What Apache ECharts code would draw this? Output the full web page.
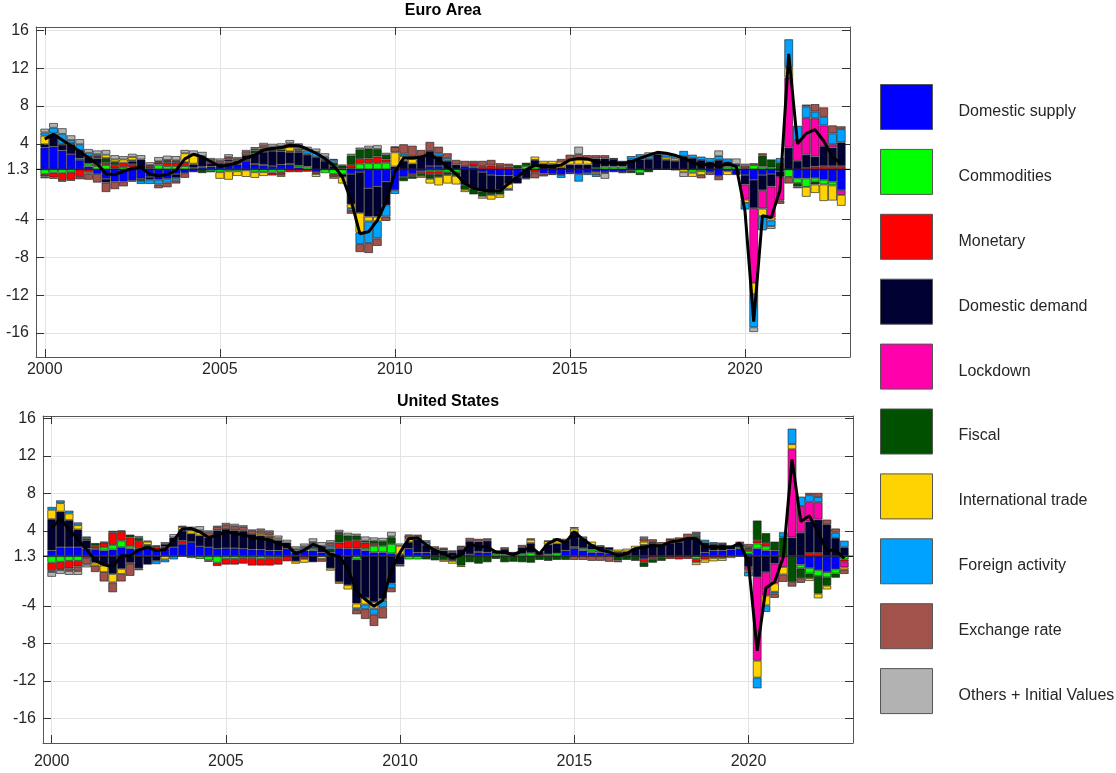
<!DOCTYPE html>
<html><head><meta charset="utf-8">
<script src="https://cdn.jsdelivr.net/npm/echarts@6/dist/echarts.min.js"></script>
<style>html,body{margin:0;padding:0;background:#fff}#c{width:1116px;height:773px}</style>
</head><body><div id="c"></div>
<script>
const FONT = '"Liberation Sans", Arial, Helvetica, sans-serif';
const startYear = 2000;
const nQuarters = 92;
const baseline = 1.3;
const xTicks = [2000, 2005, 2010, 2015, 2020];
const yTicks = [16, 12, 8, 4, 1.3, -4, -8, -12, -16];
const seriesNames = ['Domestic supply','Commodities','Monetary','Domestic demand','Lockdown','Fiscal','International trade','Foreign activity','Exchange rate','Others + Initial Values'];
const seriesColors = ['#0000ff','#00ff00','#ff0000','#000033','#ff00aa','#005000','#ffd300','#00a2ff','#a0524b','#b2b2b2'];

// ===== Euro Area (contributions, deviation from 1.3) =====
const eaDomesticSupply = [
 2.3,2.4,2.0,1.6, 1.0,0.3,-0.5,-1.0, -1.3,-1.3,-1.2,-1.0, -0.8,-1.1,-1.0,-0.5,
 -0.4,-0.3,0.2,0.3, 0.35,0.7,0.5,0.9, 0.5,0.4,0.35,0.5, 0.5,0.2,0,-0.3,
 0,0,0,-0.5, -0.3,-2.0,-1.8,-1.3, -2.2,-0.8,-0.5,-0.2, 0.35,0.35,0,0,
 0.35,0.2,-0.3,-0.6, -0.65,-0.65,-0.8,0, 0,-0.45,-0.5,-0.6, -0.4,-0.5,-0.4,-0.3,
 -0.3,-0.3,-0.3,0, 0,0,0,0, 0,0,0,0, -0.3,-0.7,-0.2,-0.6,
 -0.6,-1.1,-0.6,-0.5, -0.2,0,-0.95,-0.95, -0.9,-1.1,-1.3,-2.2];
const eaCommodities = [
 -0.5,-0.35,-0.4,-0.3, 0.15,0.3,0.35,0.45, 0.1,0.25,0.2,0, 0.1,0.5,0.35,0.35,
 0.35,0.1,0,-0.2, -0.3,-0.2,-0.2,-0.1, -0.3,-0.3,-0.35,-0.3, 0.1,0.2,0.3,0,
 -0.4,-0.5,-0.5,0.1, 0.6,0.65,0.65,0.7, 0,0,0,0, -0.2,-0.2,-0.3,-0.3,
 0,0.1,0,0, 0,0,0,0.35, 0.3,0,0,0, 0,0,0,0.15,
 0.3,0.3,0.3,-0.1, -0.4,0,0,0, 0,0,-0.35,-0.2, 0,0,0.3,0.35,
 0.1,0.45,0.3,0.2, 0,-0.8,-0.5,-0.9, -0.4,-0.5,-0.4,0];
const eaMonetary = [
 -0.25,-0.5,-0.8,-0.8, -0.8,-0.3,0.2,0.25, 0.35,0.45,0.35,0, 0.25,0.25,0.35,0.35,
 0.3,0.1,0.1,0, 0,0.15,0.1,0.1, 0.1,0.1,-0.3,-0.3, -0.3,-0.3,-0.25,-0.2,
 0,-0.3,0.1,0.35, 0.5,0.5,0.7,0.35, 0,0,-0.2,-0.2, -0.3,-0.3,0,0,
 0,0.35,0.35,0.4, 0.35,0.3,0.1,0, -0.35,0,0,0, 0,0,0,0,
 0,0,0,0, 0,0,0,0, 0,0,0,0, 0,0,0,0,
 0,0,0,0, 0,0,0,0.15, 0.3,0.35,0.35,0.35];
const eaDomesticDemand = [
 0.35,1.2,0.6,1.05, 0.9,0.7,0.6,-0.4, 0,0,0.3,1.05, -0.3,0,0,-0.4,
 0.1,0.3,1.0,0.35, 0.3,0.2,0.3,0.5, 1.05,1.35,1.6,1.4, 1.2,1.4,1.25,1.3,
 0.9,0.35,-0.3,-3.2, -4.3,-3.0,-3.2,-2.5, 0.3,0.9,0.6,1.4, 1.6,1.05,0.9,0.5,
 -1.65,-2.0,-2.05,-1.75, -1.5,-0.9,-0.7,-0.95, 0.7,0.6,0.55,0.2, 0.5,0.5,0.5,1.0,
 0.85,0.8,0.6,1.05, 1.05,1.1,1.6,1.0, 0.9,1.4,1.2,1.0, 0.8,1.0,0.5,0.2,
 -1.0,-3.0,-1.6,-1.3, -0.6,2.3,0.9,1.4, 1.05,2.1,1.95,2.5];
const eaLockdown = [
 0,0,0,0, 0,0,0,0, 0,0,0,0, 0,0,0,0,
 0,0,0,0, 0,0,0,0, 0,0,0,0, 0,0,0,0,
 0,0,0,0, 0,0,0,0, 0,0,0,0, 0,0,0,0,
 0,0,0,0, 0,0,0,0, 0,0,0,0, 0,0,0,0,
 0,0,0,0, 0,0,0,0, 0,0,0,0, 0,0,0,0,
 -1.6,-7.9,-1.95,-3.3, -2.5,7.4,2.2,3.9, 4.05,2.2,0.35,-0.5];
const eaFiscal = [
 0,0,0,0.1, 0,0.1,0.15,0.5, 0.35,0,0.1,-0.25, 0,0.1,0.2,0.15,
 0,0.1,-0.4,-0.1, 0,0,0,0, 0.35,0.35,0.1,0.2, 0.1,0.1,0,0,
 0.1,0.35,0.3,1.0, 1.0,1.05,0.8,0.5, 0,-0.45,-0.3,-0.3, -0.5,-0.3,-0.3,-0.4,
 -0.5,-0.65,-0.5,-0.35, -0.5,0,0.35,0.35, 0,0,0,0, 0,0,0,0,
 0,0,-0.1,-0.3, -0.2,-0.3,0,0, -0.1,0,0,0, 0,0,0,0,
 0,0,1.15,0.85, 0.7,0,-0.35,0, -0.3,0,0,0];
const eaIntlTrade = [
 0.9,0.2,0.1,0, 0,-0.2,0.1,0.35, 0.25,0.35,0.35,0, 0,0,0.1,0.1,
 0.95,1.0,0,0, -0.7,-0.9,-0.5,-0.7, -0.6,-0.4,0,-0.2, 0.45,0.1,0.1,-0.3,
 0,-0.2,-0.7,-0.4, -2.1,-0.5,-0.5,0, 1.5,0.5,0.5,-0.2, -0.5,-0.9,-0.9,-0.9,
 -0.25,0,-0.25,-0.5, -0.35,-0.5,0,0, 0.35,0.3,0.35,0.6, 0.45,0.55,0.5,-0.2,
 0,0,0,0, 0.2,0,0,0.25, 0.25,-0.3,-0.45,-0.4, 0,0,-0.4,0,
 -0.35,-1.2,-0.8,-0.3, 0,1.05,0,-1.05, -0.9,-1.75,-1.6,-1.15];
const eaForeign = [
 0.35,0.6,1.05,0.35, 0.6,0.35,0.2,0, 0,0,0,-0.3, -0.45,-0.5,-0.4,-0.3,
 0,0,0.1,0, 0,0,0,0, 0,0,0,0, 0.1,0.2,0.35,0.55,
 0.35,0.3,0,-0.3, -1.2,-2.3,-1.8,-1.2, -0.4,0.25,0.3,0, 0,0.3,0.3,0,
 0,0,0,0, 0,-0.2,0,0, 0,0,0,-0.3, -0.1,-0.8,-0.2,-0.3,
 -0.1,0,0,0.35, 0.35,0.35,0.1,0.35, 0.35,0.55,0.35,0.35, 0.4,0.4,0.35,0,
 -0.7,-3.5,-1.5,-0.6, 0.5,3.0,1.5,1.2, 0.7,0.9,1.15,1.4];
const eaExchange = [
 -0.2,-0.15,-0.1,-0.1, -0.25,-0.6,-0.9,-1.0, -0.8,-0.5,-0.1,0, 0.1,-0.4,-0.5,-0.3,
 -0.5,0,0,0.35, 0.25,0.25,0.2,0.35, 0.2,0.35,0.35,0.35, 0.3,0.35,0,0,
 0,0,0,-0.3, -0.85,-1.05,-0.8,-0.45, 0.55,1.0,1.1,0.65, 0.95,0.7,0.5,0.5,
 0.55,0.25,0.55,0.6, 0.3,0.3,0,-0.1, -0.6,-0.3,-0.1,0.3, 0.6,0.55,0.5,0.35,
 0.35,0.1,0,0, 0,0,0,0, 0,0,0,-0.35, -0.3,-0.45,0,0,
 0.3,0.2,0.25,0, -0.35,-0.7,-0.2,0.2, 0.8,1.0,0.85,0.3];
const eaOthers = [
 0.4,0.5,0.6,0.5, 0.55,0.4,0.4,0.5, 0.45,0.35,0.35,0.45, 0.3,0.45,0.45,0.45,
 0.35,0.4,0.45,0.2, 0.25,0.3,0.2,0.2, 0.15,0.25,0.3,0.3, 0.35,0.2,0.4,0.35,
 0.35,0.1,0.1,0.2, 0.2,0.3,0.4,0.2, 0.05,0,0,0, 0,0,0,0,
 0,0,0,0, 0,0,0,0, 0,0,0,0, 0,0.8,0,0,
 -0.6,0,0,0, 0,0.35,0,0, 0,-0.5,0,0, 0,0.6,0,0.6,
 0.2,-0.5,0,-0.3, 0,0,0,0, 0,0,0,0];
const eaGDP = [
 4.5,5.0,4.4,3.8, 3.2,2.5,1.9,0.8, 0.75,1.1,1.4,1.5, 0.8,0.6,0.75,1.2,
 2.4,2.9,2.6,2.1, 1.6,1.75,2.0,2.5, 2.8,3.35,3.5,3.6, 3.85,3.8,3.45,3.0,
 2.45,1.7,0.5,-2.0, -5.5,-5.3,-4.1,-2.1, 1.0,2.5,2.5,2.6, 2.9,2.3,1.6,0.8,
 -0.2,-0.7,-0.9,-1.0, -1.0,-0.2,0.5,1.25, 1.75,1.6,1.6,1.75, 2.3,2.45,2.4,2.1,
 2.0,2.0,1.85,2.1, 2.45,2.8,3.1,3.0, 2.8,2.45,2.05,1.7, 1.9,1.6,1.9,1.6,
 -3.1,-14.8,-3.6,-3.8, -0.9,13.5,4.0,5.1, 5.5,4.3,2.6,1.9];

// ===== United States =====
const usDomesticSupply = [
 0.6,0.95,0.95,0.95, 0.8,0.7,0.6,0.7, 0.95,0.8,0.8,0.8, 0.6,0.8,0.95,1.3,
 1.5,1.05,0.95,0.8, 0.85,0.85,0.8,0.7, 0.7,0.6,0.6,0.8, 0.4,0.6,0.6,0.4,
 0.4,0.85,0.8,0.8, 0.6,0.4,0.4,0.3, 0,0.8,0.4,0.4, 0,0,0,0,
 0.2,0.4,0.4,0, 0,0,0,0, 0,0,0,0.6, 0.85,0.6,0.4,0.4,
 0.3,0,0,0, -0.3,0,0,0, 0,0,0,0.4, 0.6,0.6,0.7,0.8,
 0.25,0.8,0.6,0.6, 0,0,-0.9,-1.25, -1.5,-1.7,-1.4,0];
const usCommodities = [
 -0.7,-0.6,-0.5,-0.5, 0,0.1,0.35,0.5, 0.7,0.3,0.1,0, 0,0,0,0,
 -0.2,-0.3,-0.45,-0.7, -0.3,-0.3,-0.2,-0.2, -0.3,-0.2,-0.2,0, 0,0,0.25,0,
 0,0,0,-0.35, 0.25,0.7,0.7,1.0, 0,-0.35,-0.35,0, 0,0,0,0,
 0,0,0,0.25, 0.2,0.25,0.25,0.35, 0.1,0.2,0.3,0, 0.15,0.25,0.3,0.2,
 0.35,0.2,0.1,0, 0,0,0,0, 0,0,-0.3,0, 0,0,0,0.15,
 0.3,0.55,0.45,0, 0,0,-0.4,-0.6, -0.6,-0.55,-0.45,-0.35];
const usMonetary = [
 -0.8,-0.8,-0.8,-0.6, -0.2,0.3,0.5,1.3, 0.95,0.9,0.7,0.1, 0.35,0.2,0,0.35,
 0,0,-0.15,-0.35, -0.6,-0.6,-0.6,-0.8, -0.7,-0.8,-0.7,-0.55, 0,-0.3,0,0,
 0,0.6,0.8,0.9, 0.6,0.2,0,0, 0,0,0,0, 0,0,0,0,
 0,0.1,0,0, 0,0,0,0, 0,0,0,0, 0,0,0,0,
 0,0,0,0, -0.35,-0.3,-0.1,-0.3, -0.35,-0.3,-0.35,-0.35, -0.2,-0.2,0,0,
 0.2,0.35,0.35,0, 0,0,0,0.35, 0.35,0,0,-0.25];
const usDomesticDemand = [
 3.35,3.8,2.9,1.9, 0.9,-0.7,-1.0,-1.9, -1.35,-0.7,-1.3,-0.9, -0.5,0.3,1.05,1.05,
 0.9,1.15,1.05,1.95, 2.05,1.9,1.9,1.65, 1.5,1.25,1.1,0.65, -0.55,0,-0.65,0.7,
 -1.3,-2.75,-3.1,-4.7, -4.45,-4.9,-4.55,-2.9, -0.9,0.7,1.4,0.8, 0.7,0.6,0.4,0.75,
 1.4,1.05,1.25,0.25, 0.55,0.2,0.7,1.05, 0.35,1.05,1.05,1.1, 1.6,1.05,0.5,0.45,
 0.3,0.25,0.4,0.75, 1.2,1.4,1.2,1.4, 1.5,1.85,1.95,1.05, 0.7,0.7,0.45,0.35,
 -1.15,-2.25,-1.7,-0.8, 0,2.0,2.5,3.35, 3.55,3.4,1.95,0.95];
const usLockdown = [
 0,0,0,0, 0,0,0,0, 0,0,0,0, 0,0,0,0,
 0,0,0,0, 0,0,0,0, 0,0,0,0, 0,0,0,0,
 0,0,0,0, 0,0,0,0, 0,0,0,0, 0,0,0,0,
 0,0,0,0, 0,0,0,0, 0,0,0,0, 0,0,0,0,
 0,0,0,0, 0,0,0,0, 0,0,0,0, 0,0,0,0,
 -0.3,-8.9,-2.5,-2.1, -1.15,9.4,2.85,2.1, 1.85,0,0,-0.6];
const usFiscal = [
 0,0,0,0, 0.2,0.3,0.1,0.2, 0.15,0.3,0.35,0.3, 0,0,0,0.1,
 0,0,0,0, 0,0,0,0, 0,0.2,0,0, 0.2,0,0.1,0,
 0.4,0.9,0.6,0.5, 0.2,0.35,0.5,0.7, 0.2,0,0,-0.35, -0.45,-0.4,-0.5,-1.0,
 -0.65,-0.8,-0.65,-0.3, -0.65,-0.6,-0.65,-0.7, -0.4,-0.5,-0.4,-0.4, 0,0,0,0,
 0,-0.45,-0.4,-0.5, -0.5,-0.4,-0.4,0, 0,0,0.2,0, 0,0,0,0,
 0.2,2.1,1.05,0.95, 2.0,-2.75,-1.05,-0.5, -1.9,-0.9,-0.45,0];
const usIntlTrade = [
 1.0,0.9,0.7,0.45, 0,-0.3,-0.7,-0.9, -0.55,-0.1,0,0.35, 0.1,-0.35,0,0.3,
 0.35,0.35,0,0, 0,0,0,0, 0.2,0.15,0.2,0, -0.25,-0.4,0,-0.3,
 -0.25,-0.2,-0.45,-0.5, -0.7,-0.7,-0.2,0.1, 0.9,0.35,0,0, 0,-0.2,-0.3,-0.15,
 0,0,0,0, 0,0,0,0.35, 0,0.35,0.35,0.15, 0.35,0,0.35,0,
 0,0.25,0.3,0.35, 0.35,0.1,0,0, 0.15,0,-0.3,-0.35, -0.35,-0.3,-0.2,0,
 -0.2,-1.8,-1.05,-0.9, -0.8,0.55,0,-0.3, -0.5,-0.4,0,-0.25];
const usForeign = [
 0.3,0.3,0.3,0.3, 0.2,0,0,0, 0,0,0,0, -0.35,-0.3,-0.35,0,
 0,0,0,0, 0,0,0,0, 0,0,0,0, 0.2,0.25,0.35,0,
 0.3,0.1,0,-0.2, -0.5,-0.65,-0.7,-0.5, -0.2,0,0,0.3, 0,0,0,0,
 0,0,0,0, 0,0,0,0, 0,0,0,0, 0,0,0,0,
 0,0,0,0, 0,0,0,0, 0,0,0.2,0.3, 0.2,0.15,0,0,
 -0.5,-1.15,-0.7,-0.2, 0.55,1.65,1.0,0.7, 0.55,0,0.55,0.7];
const usExchange = [
 -0.2,-0.1,-0.3,-0.5, -0.7,-0.7,-1.0,-1.05, -0.8,-1.3,-0.2,0, 0,0,0,0.15,
 0,0.2,0.55,0.35, 0.45,0.45,0.4,0.35, 0.35,0.35,0,0, 0,0.2,0.2,-0.3,
 0.3,0.1,0,-0.45, -1.05,-1.2,-1.2,-0.45, 0,0.35,0.35,0, 0.2,0.2,0.1,0.25,
 0.35,0.3,0.25,0, 0.2,0,0.25,0.15, 0,0.05,0.2,0, -0.4,-0.4,-0.5,-0.5,
 -0.6,-0.2,0,0, 0.35,0.3,0.3,0.4, 0.35,0.55,0.25,0, 0,0,0,0.25,
 0.35,0,0,-0.45, -0.8,-0.5,-0.5,0.25, 0.45,0.5,0.45,-0.45];
const usOthers = [
 -0.5,-0.4,-0.4,-0.4, -0.3,0,0,0, 0,0,0.2,0.1, 0.1,0.2,0.35,0,
 0.4,0.45,0.2,0.15, 0.2,0.25,0.2,0.15, 0.2,0.2,0.3,0.3, 0.25,0.3,0.4,0.4,
 0.3,0.25,0.3,0.2, 0.45,0.35,0.35,0.5, 0.25,0.1,0.15,0.2, 0.15,0.1,0.1,0.1,
 0,0,0,0.1, 0,0,0,0, 0,0,0,0, 0.15,0.2,0,0.1,
 0,0,0,0, 0.2,0,0,0.05, 0,0,0,0, 0,0,0,0,
 0,0,0,0, 0,0,0,0, 0,0,0,0];
const usGDP = [
 4.3,5.3,4.15,3.1, 2.0,0.85,0.4,0.15, 1.35,1.35,1.95,2.25, 1.9,2.0,2.95,4.2,
 4.25,3.9,3.3,3.5, 3.95,3.7,3.6,3.3, 3.15,3.05,2.6,2.5, 1.55,1.95,2.55,2.2,
 1.45,1.3,0.0,-2.5, -3.3,-4.05,-3.4,-0.2, 1.7,3.15,3.25,2.5, 1.9,1.6,1.1,1.45,
 2.6,2.3,2.3,1.75, 1.7,1.45,1.85,2.3, 1.55,2.65,3.1,2.75, 3.9,3.1,2.45,1.95,
 1.75,1.35,1.55,2.1, 2.25,2.4,2.4,2.8, 2.95,3.2,3.15,2.3, 2.25,2.25,2.25,2.7,
 0.6,-8.8,-2.1,-1.45, 1.2,11.65,5.0,5.6, 3.8,1.9,1.95,1.05];

// x layout: category slots every quarter from 1999.75 to 2023.0 (one empty slot at each end)
const xMin = startYear - 0.25;
const xMax = xMin + (nQuarters + 1) / 4;
const slotLabels = Array.from({length: nQuarters + 2}, (_, k) => String(xMin + k / 4));
const quarterX = Array.from({length: nQuarters}, (_, i) => startYear + i / 4);
const yTickDev = yTicks.map(t => +(t - baseline).toFixed(4));
const yLabel = v => { const t = yTicks.find(t => Math.abs(t - baseline - v) < 1e-6); return t === undefined ? '' : String(t); };

const panels = [
  { title: 'Euro Area', contrib: [eaDomesticSupply, eaCommodities, eaMonetary, eaDomesticDemand, eaLockdown, eaFiscal, eaIntlTrade, eaForeign, eaExchange, eaOthers],
    line: eaGDP, grid: { left: 36, top: 27, width: 814, height: 330 }, yMin: -19.84, yMax: 15.05, titleY: 11, xMargin: 5 },
  { title: 'United States', contrib: [usDomesticSupply, usCommodities, usMonetary, usDomesticDemand, usLockdown, usFiscal, usIntlTrade, usForeign, usExchange, usOthers],
    line: usGDP, grid: { left: 43, top: 416, width: 810, height: 327 }, yMin: -19.93, yMax: 14.95, titleY: 402, xMargin: 11 }
];

const AXIS_COLOR = '#555';
const grids = [], xAxes = [], yAxes = [], series = [], graphics = [];
panels.forEach((pn, p) => {
  grids.push(Object.assign({ outerBoundsMode: 'none', containLabel: false }, pn.grid));
  xAxes.push({ type: 'category', gridIndex: p, data: slotLabels, boundaryGap: false, show: false });
  xAxes.push({ type: 'value', gridIndex: p, min: xMin, max: xMax, position: 'bottom',
    axisLine: { show: true, onZero: false, lineStyle: { color: AXIS_COLOR, width: 1 } },
    axisTick: { show: true, inside: true, length: 8, customValues: xTicks, lineStyle: { color: '#333' } },
    axisLabel: { customValues: xTicks, formatter: v => String(v), fontSize: 16, color: '#262626', fontFamily: FONT, margin: pn.xMargin },
    splitLine: { show: true, lineStyle: { color: '#e3e3e3', width: 1 } } });
  xAxes.push({ type: 'value', gridIndex: p, min: xMin, max: xMax, position: 'top',
    axisLine: { show: true, onZero: false, lineStyle: { color: AXIS_COLOR, width: 1 } },
    axisTick: { show: true, inside: true, length: 8, customValues: xTicks, lineStyle: { color: '#333' } },
    axisLabel: { show: false }, splitLine: { show: false } });
  yAxes.push({ type: 'value', gridIndex: p, min: pn.yMin, max: pn.yMax, position: 'left',
    axisLine: { show: true, onZero: false, lineStyle: { color: AXIS_COLOR, width: 1 } },
    axisTick: { show: true, inside: true, length: 8, customValues: yTickDev, lineStyle: { color: '#333' } },
    axisLabel: { customValues: yTickDev, formatter: yLabel, fontSize: 16, color: '#262626', fontFamily: FONT, margin: 7 },
    splitLine: { show: true, lineStyle: { color: '#e3e3e3', width: 1 } } });
  yAxes.push({ type: 'value', gridIndex: p, min: pn.yMin, max: pn.yMax, position: 'right',
    axisLine: { show: true, onZero: false, lineStyle: { color: AXIS_COLOR, width: 1 } },
    axisTick: { show: true, inside: true, length: 8, customValues: yTickDev, lineStyle: { color: '#333' } },
    axisLabel: { show: false }, splitLine: { show: false } });

  series.push({ name: 'base' + p, type: 'line', xAxisIndex: 3 * p + 1, yAxisIndex: 2 * p, silent: true, z: 1,
    symbol: 'none', data: [[xMin, 0], [xMax, 0]], lineStyle: { color: '#000', width: 1 } });

  pn.contrib.forEach((arr, k) => {
    series.push({ name: seriesNames[k], type: 'bar', xAxisIndex: 3 * p, yAxisIndex: 2 * p, stack: 'panel' + p,
      barWidth: '100%', z: 2,
      itemStyle: { color: seriesColors[k], borderColor: 'rgba(30,30,30,0.8)', borderWidth: 0.8 },
      data: [null].concat(arr.map(v => (v === 0 ? null : v)), [null]) });
  });
  series.push({ name: 'GDP ' + pn.title, type: 'line', xAxisIndex: 3 * p + 1, yAxisIndex: 2 * p, z: 5,
    symbol: 'none', data: pn.line.map((v, i) => [quarterX[i], +(v - baseline).toFixed(4)]),
    lineStyle: { color: '#000', width: 3 } });

  graphics.push({ type: 'text', x: pn.grid.left + pn.grid.width / 2, y: pn.titleY,
    style: { text: pn.title, fill: '#000', fontSize: 16, fontWeight: 'bold', fontFamily: FONT, align: 'center', verticalAlign: 'middle' } });
});

const chart = echarts.init(document.getElementById('c'), null, { renderer: 'canvas' });
chart.setOption({
  animation: false,
  backgroundColor: '#fff',
  textStyle: { fontFamily: FONT },
  grid: grids, xAxis: xAxes, yAxis: yAxes, series: series, graphic: graphics,
  legend: { data: seriesNames, orient: 'vertical', left: 880, top: 84, padding: 0, itemWidth: 52, itemHeight: 45, itemGap: 18.9,
    icon: 'rect', selectedMode: false,
    itemStyle: { borderColor: '#555', borderWidth: 1 },
    formatter: name => '{t|' + name + '}',
    textStyle: { fontSize: 16, color: '#262626', fontFamily: FONT, padding: [0, 0, 0, 21],
      rich: { t: { fontSize: 16, color: '#262626', fontFamily: FONT, lineHeight: 16, padding: [9, 0, 0, 0] } } } }
});
</script></body></html>
